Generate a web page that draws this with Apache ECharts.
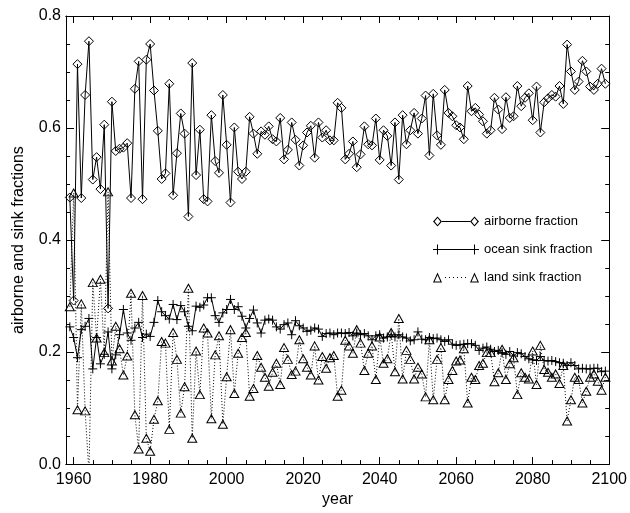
<!DOCTYPE html>
<html>
<head>
<meta charset="utf-8">
<script src="https://cdn.jsdelivr.net/npm/echarts@6/dist/echarts.min.js"></script>
<style>
html,body{margin:0;padding:0;background:#fff;}
#c{width:630px;height:513px;}
</style>
</head>
<body>
<div id="c"></div>
<script>
const firstYear = 1959;
const airborne = [
0.476,0.292,0.714,0.475,0.659,0.755,0.508,0.548,0.491,0.606,
0.278,0.647,0.559,0.563,0.565,0.573,0.475,0.670,0.719,0.473,
0.722,0.750,0.667,0.595,0.509,0.519,0.679,0.480,0.555,0.626,
0.590,0.442,0.716,0.516,0.597,0.473,0.469,0.623,0.541,0.520,
0.659,0.570,0.467,0.601,0.522,0.509,0.522,0.620,0.590,0.554,
0.594,0.588,0.603,0.580,0.576,0.618,0.544,0.561,0.610,0.579,
0.533,0.569,0.592,0.604,0.547,0.610,0.583,0.596,0.578,0.578,
0.645,0.636,0.544,0.554,0.576,0.530,0.553,0.603,0.571,0.569,
0.617,0.543,0.596,0.586,0.533,0.610,0.508,0.623,0.571,0.596,
0.627,0.590,0.617,0.658,0.551,0.661,0.587,0.570,0.668,0.627,
0.621,0.605,0.601,0.580,0.675,0.630,0.636,0.624,0.612,0.590,
0.596,0.654,0.633,0.598,0.655,0.618,0.621,0.675,0.639,0.654,
0.662,0.614,0.674,0.592,0.646,0.653,0.659,0.656,0.675,0.643,
0.749,0.701,0.668,0.683,0.720,0.701,0.674,0.668,0.679,0.706,
0.679
];
const ocean = [
0.245,0.226,0.190,0.240,0.246,0.260,0.170,0.226,0.179,0.196,
0.236,0.170,0.195,0.231,0.276,0.234,0.221,0.243,0.253,0.226,
0.232,0.228,0.253,0.292,0.272,0.265,0.259,0.285,0.258,0.283,
0.272,0.246,0.238,0.282,0.280,0.284,0.297,0.297,0.265,0.253,
0.270,0.276,0.294,0.276,0.281,0.264,0.243,0.260,0.275,0.252,
0.234,0.257,0.259,0.257,0.245,0.241,0.249,0.252,0.231,0.256,
0.247,0.243,0.237,0.239,0.243,0.241,0.228,0.233,0.234,0.231,
0.234,0.234,0.233,0.235,0.229,0.234,0.231,0.233,0.229,0.222,
0.229,0.231,0.225,0.227,0.231,0.227,0.231,0.227,0.225,0.220,
0.222,0.236,0.223,0.222,0.226,0.224,0.225,0.222,0.219,0.222,
0.214,0.212,0.213,0.214,0.215,0.215,0.212,0.203,0.207,0.209,
0.205,0.201,0.203,0.199,0.196,0.201,0.193,0.199,0.197,0.192,
0.188,0.186,0.185,0.192,0.185,0.184,0.185,0.183,0.181,0.180,
0.176,0.181,0.176,0.170,0.171,0.170,0.170,0.171,0.171,0.165,
0.166
];
const land = [
0.281,0.484,0.097,0.286,0.095,-0.015,0.324,0.225,0.330,0.199,
0.486,0.184,0.246,0.206,0.159,0.193,0.305,0.088,0.027,0.301,
0.046,0.023,0.080,0.113,0.219,0.216,0.062,0.235,0.187,0.091,
0.138,0.314,0.046,0.202,0.124,0.243,0.234,0.081,0.195,0.229,
0.071,0.156,0.240,0.126,0.198,0.226,0.235,0.121,0.135,0.194,
0.173,0.155,0.139,0.164,0.180,0.142,0.208,0.187,0.160,0.166,
0.222,0.188,0.173,0.159,0.211,0.150,0.192,0.171,0.190,0.194,
0.121,0.132,0.221,0.211,0.198,0.240,0.216,0.167,0.198,0.211,
0.151,0.227,0.180,0.188,0.235,0.165,0.260,0.152,0.203,0.187,
0.152,0.173,0.161,0.120,0.222,0.115,0.187,0.208,0.115,0.151,
0.167,0.184,0.186,0.206,0.109,0.155,0.151,0.176,0.180,0.199,
0.199,0.147,0.163,0.205,0.151,0.179,0.190,0.124,0.163,0.155,
0.152,0.202,0.142,0.212,0.169,0.164,0.155,0.161,0.144,0.176,
0.077,0.115,0.155,0.151,0.109,0.130,0.155,0.161,0.148,0.132,
0.155
];
const years = airborne.map((_, i) => firstYear + i);
const xMajorTicks = [1960, 1980, 2000, 2020, 2040, 2060, 2080, 2100];
const xMinorTicks = [1965,1970,1975,1985,1990,1995,2005,2010,2015,2025,2030,2035,2045,2050,2055,2065,2070,2075,2085,2090,2095];
const seriesNames = ['airborne fraction', 'ocean sink fraction', 'land sink fraction'];

const FONT = "'Liberation Sans', Arial, Helvetica, sans-serif";
const SYM_DIAMOND = 'path://M5,0L10,5L5,10L0,5Z';
const SYM_PLUS = 'path://M0,5L10,5M5,0L5,10';
const SYM_TRI = 'path://M5,0L10,9L0,9Z';

const ICON_DIAMOND = 'path://M4.5,0L9,5L4.5,10L0,5Z M4.5,1.6L1.6,5L4.5,8.4L7.4,5Z M9,4.5L37,4.5L37,5.5L9,5.5Z M41.5,0L46,5L41.5,10L37,5Z M41.5,1.6L38.6,5L41.5,8.4L44.4,5Z';
const ICON_PLUS = 'path://M0,4.5L9,4.5L9,5.5L0,5.5Z M4,0L5,0L5,10L4,10Z M9,4.5L37,4.5L37,5.5L9,5.5Z M37,4.5L46,4.5L46,5.5L37,5.5Z M41,0L42,0L42,10L41,10Z';
const ICON_TRI = 'path://M4.5,0L9,10L0,10Z M4.5,2.6L1.6,8.9L7.4,8.9Z M12,4.5L13,4.5L13,5.5L12,5.5Z M16,4.5L17,4.5L17,5.5L16,5.5Z M20,4.5L21,4.5L21,5.5L20,5.5Z M24,4.5L25,4.5L25,5.5L24,5.5Z M28,4.5L29,4.5L29,5.5L28,5.5Z M32,4.5L33,4.5L33,5.5L32,5.5Z M41.5,0L46,10L37,10Z M41.5,2.6L38.6,8.9L44.4,8.9Z';

function xAxisDef(pos, ticks, len, showLabel, opts) {
  return Object.assign({
    type: 'value', position: pos, min: 1958, max: 2100,
    axisLine: { show: true, onZero: false, lineStyle: { color: '#000', width: 1 } },
    axisTick: { show: true, inside: true, length: len, customValues: ticks, lineStyle: { color: '#000', width: 1 } },
    axisLabel: { show: showLabel, customValues: xMajorTicks, color: '#000', fontSize: 16, fontFamily: FONT, margin: 7, formatter: v => String(v) },
    splitLine: { show: false }
  }, opts || {});
}
function yAxisDef(pos, showLabel, opts) {
  return Object.assign({
    type: 'value', position: pos, min: 0, max: 0.8, interval: 0.2,
    axisLine: { show: true, onZero: false, lineStyle: { color: '#000', width: 1 } },
    axisTick: { show: true, inside: true, length: 8, lineStyle: { color: '#000', width: 1 } },
    minorTick: { show: true, splitNumber: 4, length: 4, lineStyle: { color: '#000', width: 1 } },
    axisLabel: { show: showLabel, color: '#000', fontSize: 16, fontFamily: FONT, margin: 5, formatter: v => v.toFixed(1) },
    splitLine: { show: false }, minorSplitLine: { show: false }
  }, opts || {});
}

function mkSeries(name, vals, symbol, size, dash) {
  return {
    type: 'line', name: name, xAxisIndex: 0, yAxisIndex: 0,
    data: years.map((y, i) => [y, vals[i]]),
    symbol: symbol, symbolSize: size, clip: true,
    itemStyle: { color: 'rgba(0,0,0,0)', borderColor: '#000', borderWidth: 1 },
    lineStyle: { color: '#000', width: 1, type: dash },
    emphasis: { disabled: true }
  };
}

const chart = echarts.init(document.getElementById('c'), null, { renderer: 'canvas' });
chart.setOption({
  animation: false,
  backgroundColor: '#fff',
  grid: { left: 66, top: 16, width: 545, height: 457, containLabel: false },
  xAxis: [
    xAxisDef('bottom', xMajorTicks, 7, true, { name: 'year', nameLocation: 'middle', nameGap: 21, nameTextStyle: { color: '#000', fontSize: 16, fontFamily: FONT } }),
    xAxisDef('bottom', xMinorTicks, 4, false),
    xAxisDef('top', xMajorTicks, 7, false),
    xAxisDef('top', xMinorTicks, 4, false)
  ],
  yAxis: [
    yAxisDef('left', true, { name: 'airborne and sink fractions', nameLocation: 'middle', nameGap: 39, nameRotate: 90, nameTextStyle: { color: '#000', fontSize: 16, fontFamily: FONT } }),
    yAxisDef('right', false)
  ],
  legend: {
    orient: 'vertical', left: 428, top: 210, itemWidth: 46, itemHeight: 10, itemGap: 15,
    selectedMode: false,
    textStyle: { color: '#000', fontSize: 13, fontFamily: FONT },
    data: [
      { name: seriesNames[0], icon: ICON_DIAMOND, itemStyle: { color: '#000', borderWidth: 0 } },
      { name: seriesNames[1], icon: ICON_PLUS, itemStyle: { color: '#000', borderWidth: 0 } },
      { name: seriesNames[2], icon: ICON_TRI, itemStyle: { color: '#000', borderWidth: 0 } }
    ]
  },
  series: [
    mkSeries(seriesNames[0], airborne, SYM_DIAMOND, [9, 9], 'solid'),
    mkSeries(seriesNames[1], ocean, SYM_PLUS, [9, 9], 'solid'),
    mkSeries(seriesNames[2], land, SYM_TRI, [9, 8], [1, 2])
  ]
});
</script>
</body>
</html>
